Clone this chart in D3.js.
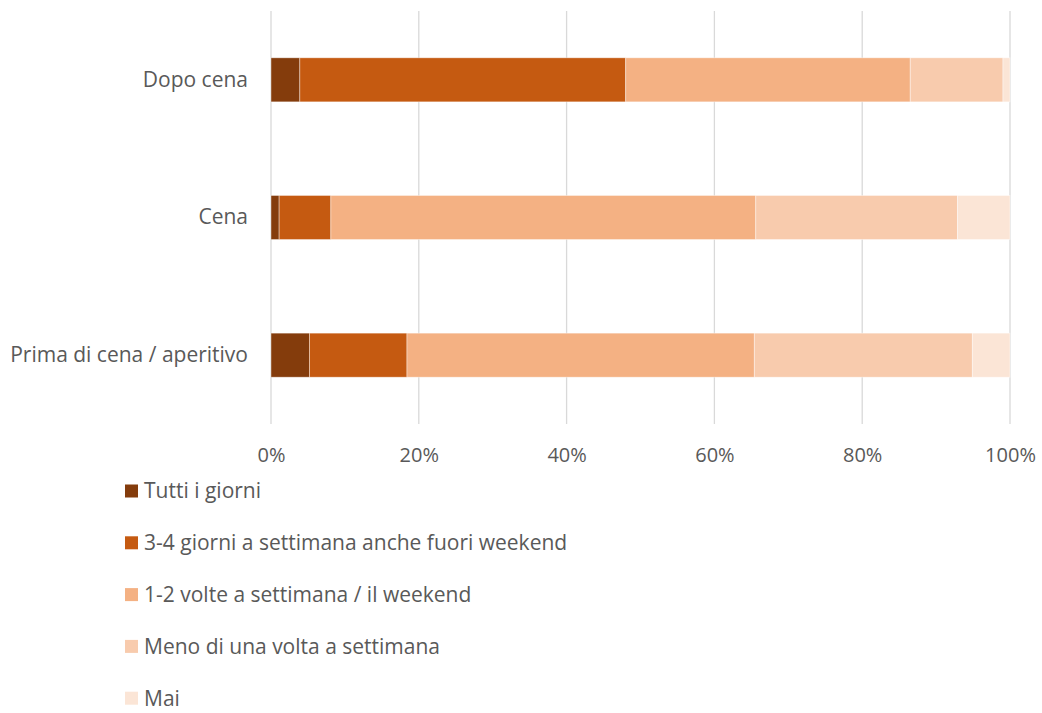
<!DOCTYPE html>
<html>
<head>
<meta charset="utf-8">
<script src="https://cdn.jsdelivr.net/npm/d3@7"></script>
<style>
  html, body { margin: 0; padding: 0; background: #fff; }
  svg { display: block; }
  text { font-family: "Open Sans", sans-serif; fill: #595959; font-variant-ligatures: none; }
</style>
</head>
<body>
<svg id="chart" width="1042" height="713"></svg>
<script>
const categories = ["Dopo cena", "Cena", "Prima di cena / aperitivo"];
const seriesNames = [
  "Tutti i giorni",
  "3-4 giorni a settimana anche fuori weekend",
  "1-2 volte a settimana / il weekend",
  "Meno di una volta a settimana",
  "Mai"
];
const tuttiIGiorni = [3.9, 1.1, 5.2];
const treQuattroGiorni = [44.1, 7.0, 13.2];
const unoDueVolte = [38.5, 57.5, 47.0];
const menoDiUnaVolta = [12.55, 27.3, 29.5];
const mai = [0.95, 7.1, 5.1];
const tickValues = [0, 20, 40, 60, 80, 100];
const colors = ["#843C0C", "#C55A11", "#F4B183", "#F8CBAD", "#FBE5D6"];

const FONT = 21;
const TICKFONT = 20;
const seriesValues = [tuttiIGiorni, treQuattroGiorni, unoDueVolte, menoDiUnaVolta, mai];
const rows = categories.map((c, i) => {
  const r = { category: c };
  seriesNames.forEach((s, j) => r[s] = seriesValues[j][i]);
  return r;
});
const stacked = d3.stack().keys(seriesNames)(rows);

const svg = d3.select("#chart");
const x = d3.scaleLinear().domain([0, 100]).range([271, 1010]);
const y = d3.scaleBand().domain(categories).range([11, 424]).paddingInner(0.68).paddingOuter(0.34);

// gridlines
svg.append("g").selectAll("line").data(tickValues).join("line")
  .attr("x1", d => x(d)).attr("x2", d => x(d))
  .attr("y1", 11).attr("y2", 424)
  .attr("stroke", "#d9d9d9").attr("stroke-width", 1.3);

// bars
svg.append("g").selectAll("g").data(stacked).join("g")
  .attr("fill", (d, i) => colors[i])
  .selectAll("rect").data(d => d).join("rect")
  .attr("x", d => x(d[0]))
  .attr("width", d => x(d[1]) - x(d[0]))
  .attr("y", d => y(d.data.category))
  .attr("height", y.bandwidth())
  .attr("stroke", "rgba(255,255,255,0.5)")
  .attr("stroke-width", 0.8);

// x axis
const xAxis = d3.axisBottom(x).tickValues(tickValues).tickFormat(d => d + "%").tickSize(0).tickPadding(0);
const gx = svg.append("g").attr("transform", "translate(0,455)").call(xAxis);
gx.select(".domain").remove();
gx.selectAll("text").attr("font-size", TICKFONT).attr("dy", "0.35em").style("font-family", "'Open Sans', sans-serif").attr("fill", "#595959");

// y axis
const yAxis = d3.axisLeft(y).tickSize(0).tickPadding(0);
const gy = svg.append("g").attr("transform", "translate(248,0)").call(yAxis);
gy.select(".domain").remove();
gy.selectAll("text").attr("font-size", FONT).style("font-family", "'Open Sans', sans-serif").attr("fill", "#595959");

// legend
const legend = svg.append("g").selectAll("g").data(seriesNames).join("g")
  .attr("transform", (d, i) => `translate(125,${491 + i * 51.8})`);
legend.append("rect").attr("x", 0).attr("y", -6.5).attr("width", 13).attr("height", 13)
  .attr("fill", (d, i) => colors[i]);
legend.append("text").attr("x", 19).attr("dy", "0.35em").attr("font-size", FONT).text(d => d);
</script>
</body>
</html>
